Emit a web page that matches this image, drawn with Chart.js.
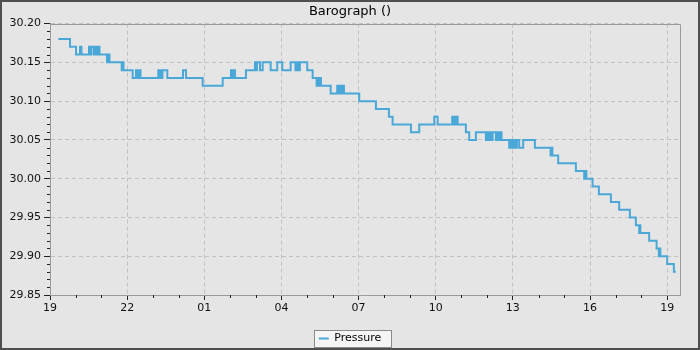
<!DOCTYPE html>
<html>
<head>
<meta charset="utf-8">
<title>Barograph</title>
<script src="https://cdn.jsdelivr.net/npm/chart.js@4"></script>
<style>
  html, body { margin: 0; padding: 0; background: #e5e5e5; }
  #wrap { position: relative; width: 700px; height: 350px; background: #e5e5e5; }
  #frame { position: absolute; left: 0; top: 0; right: 0; bottom: 0; border: 2px solid #4f4f4f; pointer-events: none; }
</style>
</head>
<body>
<div id="wrap"><canvas id="baro" width="700" height="350"></canvas><div id="frame"></div></div>
<script>
// hours after 19:00 where each reading starts
const hours = [
  0.323, 0.778, 1.011, 1.166, 1.225, 1.516, 1.575, 1.614, 1.711, 1.750, 1.827, 1.866, 1.925,
  2.216, 2.255, 2.313, 2.788, 2.819, 2.858, 3.215, 3.344, 3.383, 3.441, 3.519,
  4.211, 4.257, 4.296, 4.335, 4.374, 4.561, 5.171, 5.288, 5.937, 6.715,
  7.037, 7.076, 7.115, 7.193, 7.621, 7.970, 8.009, 8.048, 8.165, 8.270, 8.581, 8.837,
  9.032, 9.358, 9.545, 9.584, 9.642, 9.720, 10.004, 10.214, 10.369, 10.400, 10.439, 10.498, 10.537,
  10.914, 11.170, 11.217, 11.256, 11.314, 11.353, 11.431, 12.026, 12.675, 13.180, 13.324,
  14.036, 14.359, 14.942, 15.074, 15.642, 15.688, 15.727, 15.785, 15.817, 15.852,
  16.174, 16.303, 16.563, 16.952, 16.991, 17.049, 17.107, 17.146, 17.212,
  17.341, 17.379, 17.438, 17.496, 17.562, 17.858, 17.904, 17.943, 18.002, 18.040, 18.079, 18.118,
  18.157, 18.246, 18.402, 18.857, 19.467, 19.498, 19.537, 19.763, 20.451, 20.774, 20.820, 20.859,
  21.100, 21.345, 21.812, 22.135, 22.551, 22.784, 22.912, 22.932, 22.959,
  23.301, 23.589, 23.678, 23.705, 23.737, 24.001, 24.261, 24.339
];
const pressure = [
  30.18, 30.17, 30.16, 30.17, 30.16, 30.17, 30.16, 30.17, 30.16, 30.17, 30.16, 30.17, 30.16,
  30.15, 30.16, 30.15, 30.14, 30.15, 30.14, 30.13, 30.14, 30.13, 30.14, 30.13,
  30.14, 30.13, 30.14, 30.13, 30.14, 30.13, 30.14, 30.13, 30.12, 30.13,
  30.14, 30.13, 30.14, 30.13, 30.14, 30.15, 30.14, 30.15, 30.14, 30.15, 30.14, 30.15,
  30.14, 30.15, 30.14, 30.15, 30.14, 30.15, 30.14, 30.13, 30.12, 30.13, 30.12, 30.13, 30.12,
  30.11, 30.12, 30.11, 30.12, 30.11, 30.12, 30.11, 30.10, 30.09, 30.08, 30.07,
  30.06, 30.07, 30.08, 30.07, 30.08, 30.07, 30.08, 30.07, 30.08, 30.07,
  30.06, 30.05, 30.06, 30.05, 30.06, 30.05, 30.06, 30.05, 30.06,
  30.05, 30.06, 30.05, 30.06, 30.05, 30.04, 30.05, 30.04, 30.05, 30.04, 30.05, 30.04,
  30.05, 30.04, 30.05, 30.04, 30.03, 30.04, 30.03, 30.02, 30.01, 30.00, 30.01, 30.00,
  29.99, 29.98, 29.97, 29.96, 29.95, 29.94, 29.93, 29.94, 29.93,
  29.92, 29.91, 29.90, 29.91, 29.90, 29.89, 29.88, 29.88
];
const startHour = 19;
const xRange = [0, 24.5];
const yRange = [29.85, 30.20];
const xMajorStep = 3, xMinorStep = 1;
const yMajorStep = 0.05, yMinorStep = 0.01;

const FONT = 'DejaVu Sans';
const lineColor = '#4aa8d8';

const hourLabel = (v) => String((startHour + v) % 24).padStart(2, '0');

// short minor tick marks between the labelled ones
const minorTicks = {
  id: 'minorTicks',
  afterDraw(chart) {
    const {ctx, scales: {x, y}} = chart;
    ctx.save();
    ctx.strokeStyle = '#222';
    ctx.lineWidth = 1;
    ctx.beginPath();
    for (let h = xRange[0] + xMinorStep; h < xRange[1]; h += xMinorStep) {
      if (Math.abs(h / xMajorStep - Math.round(h / xMajorStep)) < 1e-6) continue;
      const px = Math.round(x.getPixelForValue(h)) + 0.5;
      ctx.moveTo(px, y.bottom);
      ctx.lineTo(px, y.bottom + 3);
    }
    const n = Math.round((yRange[1] - yRange[0]) / yMinorStep);
    for (let i = 1; i < n; i++) {
      if (i % Math.round(yMajorStep / yMinorStep) === 0) continue;
      const py = Math.round(y.getPixelForValue(yRange[0] + i * yMinorStep)) + 0.5;
      ctx.moveTo(x.left - 3, py);
      ctx.lineTo(x.left, py);
    }
    ctx.stroke();
    ctx.restore();
  }
};

// top/right edge of the plot frame + box behind the legend
const frameAndLegendBox = {
  id: 'frameAndLegendBox',
  beforeDraw(chart) {
    const {ctx, legend} = chart;
    const hb = legend && legend.legendHitBoxes && legend.legendHitBoxes[0];
    if (!hb) return;
    ctx.save();
    ctx.fillStyle = '#f5f5f5';
    ctx.strokeStyle = '#8a8a8a';
    ctx.lineWidth = 1;
    const x0 = Math.round(hb.left - 5) + 0.5, y0 = Math.round(hb.top - 3) + 0.5;
    const w = Math.round(hb.width + 15), h = Math.round(hb.height + 6);
    ctx.fillRect(x0, y0, w, h);
    ctx.strokeRect(x0, y0, w, h);
    ctx.restore();
  },
  afterDatasetsDraw(chart) {
    const {ctx, chartArea: a} = chart;
    ctx.save();
    ctx.strokeStyle = '#9a9a9a';
    ctx.lineWidth = 1;
    ctx.beginPath();
    ctx.moveTo(Math.round(a.left), Math.round(a.top) + 0.5);
    ctx.lineTo(Math.round(a.right) + 0.5, Math.round(a.top) + 0.5);
    ctx.lineTo(Math.round(a.right) + 0.5, Math.round(a.bottom));
    ctx.stroke();
    ctx.restore();
  }
};

new Chart(document.getElementById('baro').getContext('2d'), {
  type: 'line',
  data: {
    datasets: [{
      label: 'Pressure',
      data: hours.map((h, i) => ({x: h, y: pressure[i]})),
      borderColor: lineColor,
      backgroundColor: lineColor,
      borderWidth: 2,
      stepped: true,
      pointRadius: 0,
      fill: false
    }]
  },
  options: {
    responsive: false,
    animation: false,
    layout: { padding: { left: 0, right: 0, top: 0, bottom: -4 } },
    plugins: {
      title: {
        display: true,
        text: 'Barograph ()',
        color: '#000',
        font: { family: FONT, size: 13, weight: 'normal' },
        padding: { top: 4, bottom: 4 }
      },
      legend: {
        position: 'bottom',
        labels: {
          color: '#000',
          font: { family: FONT, size: 11 },
          usePointStyle: true,
          pointStyle: 'line',
          pointStyleWidth: 10,
          padding: 4
        }
      },
      tooltip: { enabled: false }
    },
    scales: {
      x: {
        type: 'linear',
        min: xRange[0],
        max: xRange[1],
        afterFit: (s) => { s.height = 34; },
        ticks: {
          stepSize: xMajorStep,
          includeBounds: false,
          autoSkip: false,
          maxRotation: 0,
          padding: 2,
          color: '#111',
          font: { family: FONT, size: 11 },
          callback: hourLabel
        },
        grid: { color: '#c2c2c2', tickColor: '#222', tickLength: 5 },
        border: { color: '#9a9a9a', dash: [4, 3] }
      },
      y: {
        min: yRange[0],
        max: yRange[1],
        afterFit: (s) => { s.width = 50; },
        ticks: {
          stepSize: yMajorStep,
          padding: 3,
          color: '#111',
          font: { family: FONT, size: 11 },
          callback: (v) => Number(v).toFixed(2)
        },
        grid: { color: '#c2c2c2', tickColor: '#222', tickLength: 6 },
        border: { color: '#9a9a9a', dash: [4, 3] }
      },
      // empty right margin so title and legend centre on the whole canvas
      yRight: {
        position: 'right',
        min: yRange[0],
        max: yRange[1],
        afterFit: (s) => { s.width = 20; },
        ticks: { display: false },
        grid: { drawOnChartArea: false, drawTicks: false },
        border: { display: false }
      }
    }
  },
  plugins: [minorTicks, frameAndLegendBox]
});
</script>
</body>
</html>
